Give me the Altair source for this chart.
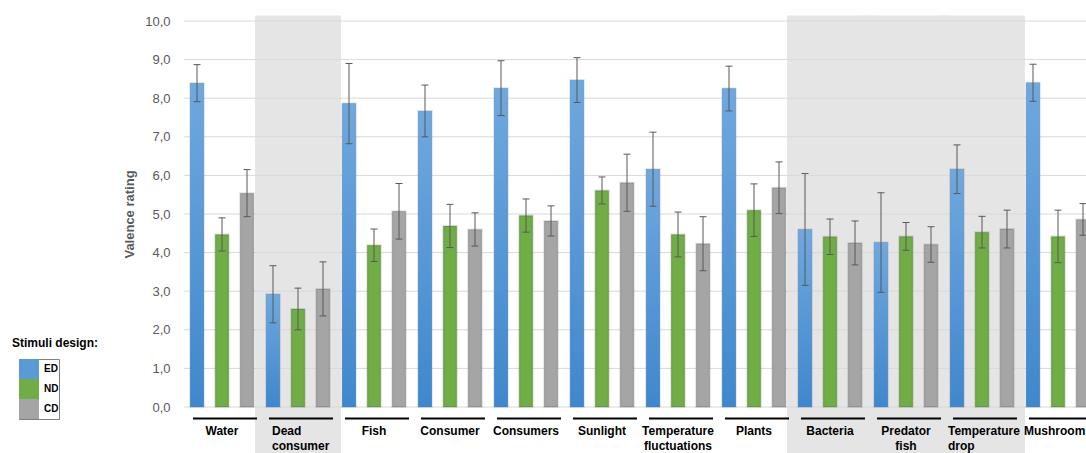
import altair as alt
import pandas as pd

# Stimuli (x categories) and design conditions
categories = [
    "Water", "Dead consumer", "Fish", "Consumer", "Consumers", "Sunlight",
    "Temperature fluctuations", "Plants", "Bacteria", "Predator fish",
    "Temperature drop", "Mushroom",
]
designs = ["ED", "ND", "CD"]
y_ticks = [0, 1, 2, 3, 4, 5, 6, 7, 8, 9, 10]

# Mean valence rating and error (half-length of the error bar) per design
ed_mean = [8.39, 2.92, 7.86, 7.67, 8.26, 8.47, 6.16, 8.25, 4.60, 4.26, 6.16, 8.40]
ed_err = [0.48, 0.74, 1.04, 0.67, 0.71, 0.58, 0.96, 0.58, 1.45, 1.29, 0.63, 0.48]
nd_mean = [4.47, 2.54, 4.19, 4.69, 4.96, 5.61, 4.47, 5.10, 4.41, 4.42, 4.53, 4.42]
nd_err = [0.43, 0.54, 0.42, 0.56, 0.43, 0.35, 0.58, 0.68, 0.46, 0.36, 0.41, 0.68]
cd_mean = [5.54, 3.06, 5.07, 4.60, 4.82, 5.81, 4.23, 5.68, 4.25, 4.21, 4.61, 4.86]
cd_err = [0.61, 0.70, 0.72, 0.43, 0.39, 0.74, 0.70, 0.67, 0.57, 0.46, 0.49, 0.41]

# Stimuli highlighted with a grey background band
shaded = ["Dead consumer", "Bacteria", "Predator fish", "Temperature drop"]
# Labels set flush left (wide / narrow indent)
left_wide = ["Dead consumer"]
left_narrow = ["Temperature drop", "Mushroom"]

rows = []
for d, means, errs in zip(designs, [ed_mean, nd_mean, cd_mean], [ed_err, nd_err, cd_err]):
    for c, m, e in zip(categories, means, errs):
        rows.append({"category": c, "design": d, "mean": m, "err": e})
ratings = pd.DataFrame(rows)

cats = pd.DataFrame({
    "category": categories,
    "label": [c.replace(" ", "\n") for c in categories],
    "shaded": [c in shaded for c in categories],
    "align": ["wide" if c in left_wide else "narrow" if c in left_narrow else "center"
              for c in categories],
})

FONT = "Liberation Sans"
blue, green, grey = "#5b9bd5", "#70ad47", "#a5a5a5"

x_scale = alt.Scale(domain=categories, range=[0, 912], paddingInner=0, paddingOuter=0)
x_enc = alt.X("category:N", sort=categories, scale=x_scale, axis=None)
x_start = alt.X("category:N", sort=categories, scale=x_scale, axis=None, bandPosition=0)
xoff = alt.XOffset(
    "design:N", sort=designs,
    scale=alt.Scale(domain=designs, paddingInner=0.46, paddingOuter=0.25),
)
y_scale = alt.Scale(domain=[0, 10], nice=False, zero=False)
y_axis = alt.Axis(
    values=y_ticks,
    labelExpr="replace(format(datum.value, '.1f'), '.', ',')",
    labelFont=FONT, labelFontSize=13, labelColor="#595959", labelPadding=14,
    ticks=False, domain=False, grid=False,
    title="Valence rating", titleFont=FONT, titleFontSize=13,
    titleFontWeight="bold", titleColor="#595959", titlePadding=8,
)

# grey background bands behind selected stimuli
shade = alt.Chart(cats).transform_filter("datum.shaded").mark_bar(
    color="#e5e5e5", width=alt.RelativeBandSize(1.13)
).encode(
    x=x_enc,
    y=alt.Y(datum=10.14, scale=y_scale, axis=y_axis),
    y2=alt.datum(-1.3),
)

# horizontal gridlines, drawn over the grey bands
grid = alt.Chart(pd.DataFrame({"v": y_ticks})).mark_rule(
    color="#d9d9d9", strokeWidth=1
).encode(y=alt.Y("v:Q", scale=y_scale, axis=y_axis))

base = alt.Chart(ratings).transform_calculate(
    lo="datum.mean - datum.err", hi="datum.mean + datum.err"
)

# bars with a faint soft edge
bars = base.mark_bar(stroke="black", strokeOpacity=0.12, strokeWidth=2).encode(
    x=x_enc,
    xOffset=xoff,
    y=alt.Y("mean:Q", scale=y_scale, axis=y_axis),
    color=alt.Color(
        "design:N", sort=designs,
        scale=alt.Scale(domain=designs, range=[blue, green, grey]),
        legend=alt.Legend(
            title=None, orient="none", legendX=-165, legendY=338,
            symbolType="square", symbolSize=400, symbolStrokeWidth=0,
            rowPadding=0, padding=0, labelOffset=5,
            labelFont=FONT, labelFontSize=10, labelFontWeight="bold",
            labelColor="black", strokeColor="#7f7f7f",
            labelExpr="datum.label + '\u00a0\u00a0\u00a0'",
        ),
    ),
)

# ED bars carry a vertical blue gradient
ed_gradient = base.transform_filter("datum.design == 'ED'").mark_bar(
    color=alt.Gradient(
        gradient="linear", x1=0, x2=0, y1=0, y2=1,
        stops=[alt.GradientStop(color="#70a8de", offset=0),
               alt.GradientStop(color="#3f87cd", offset=1)],
    )
).encode(
    x=x_enc, xOffset=xoff,
    y=alt.Y("mean:Q", scale=y_scale, axis=y_axis),
)

err_color = "#595959"
err_rule = base.mark_rule(color=err_color, strokeWidth=1).encode(
    x=x_enc, xOffset=xoff,
    y=alt.Y("lo:Q", scale=y_scale, axis=y_axis), y2="hi:Q",
)
cap_hi = base.mark_tick(color=err_color, thickness=1, size=7, opacity=1).encode(
    x=x_enc, xOffset=xoff, y=alt.Y("hi:Q", scale=y_scale, axis=y_axis),
)
cap_lo = base.mark_tick(color=err_color, thickness=1, size=7, opacity=1).encode(
    x=x_enc, xOffset=xoff, y=alt.Y("lo:Q", scale=y_scale, axis=y_axis),
)

# black underline below each stimulus group
group_line = alt.Chart(cats).mark_tick(
    color="black", thickness=2, size=64, opacity=1
).encode(
    x=x_start, y=alt.Y(datum=-0.3, scale=y_scale, axis=y_axis),
    xOffset=alt.value(41),
)

label_style = dict(
    font=FONT, fontSize=12, fontWeight="bold", color="black",
    baseline="alphabetic", lineBreak="\n", lineHeight=15.5,
)
label_y = alt.Y(datum=-0.72, scale=y_scale, axis=y_axis)
labels_center = alt.Chart(cats).transform_filter("datum.align == 'center'").mark_text(
    align="center", **label_style
).encode(x=x_enc, y=label_y, text="label:N")
labels_wide = alt.Chart(cats).transform_filter("datum.align == 'wide'").mark_text(
    align="left", **label_style
).encode(x=x_start, y=label_y, text="label:N", xOffset=alt.value(12))
labels_narrow = alt.Chart(cats).transform_filter("datum.align == 'narrow'").mark_text(
    align="left", **label_style
).encode(x=x_start, y=label_y, text="label:N", xOffset=alt.value(4))

legend_title = alt.Chart(pd.DataFrame({"t": ["Stimuli design:"]})).mark_text(
    font=FONT, fontSize=12, fontWeight="bold", color="black",
    align="left", baseline="middle",
).encode(text="t:N", x=alt.value(-172), y=alt.value(322))

chart = alt.layer(
    shade, grid, bars, ed_gradient, err_rule, cap_hi, cap_lo,
    group_line, labels_center, labels_wide, labels_narrow, legend_title,
).properties(
    width=902, height=386,
    autosize=alt.AutoSizeParams(type="none"),
    padding={"left": 184, "top": 21, "right": 0, "bottom": 46},
    background="white",
).configure_view(stroke=None)

chart.save("out.html", embed_options={"renderer": "svg", "actions": False})
